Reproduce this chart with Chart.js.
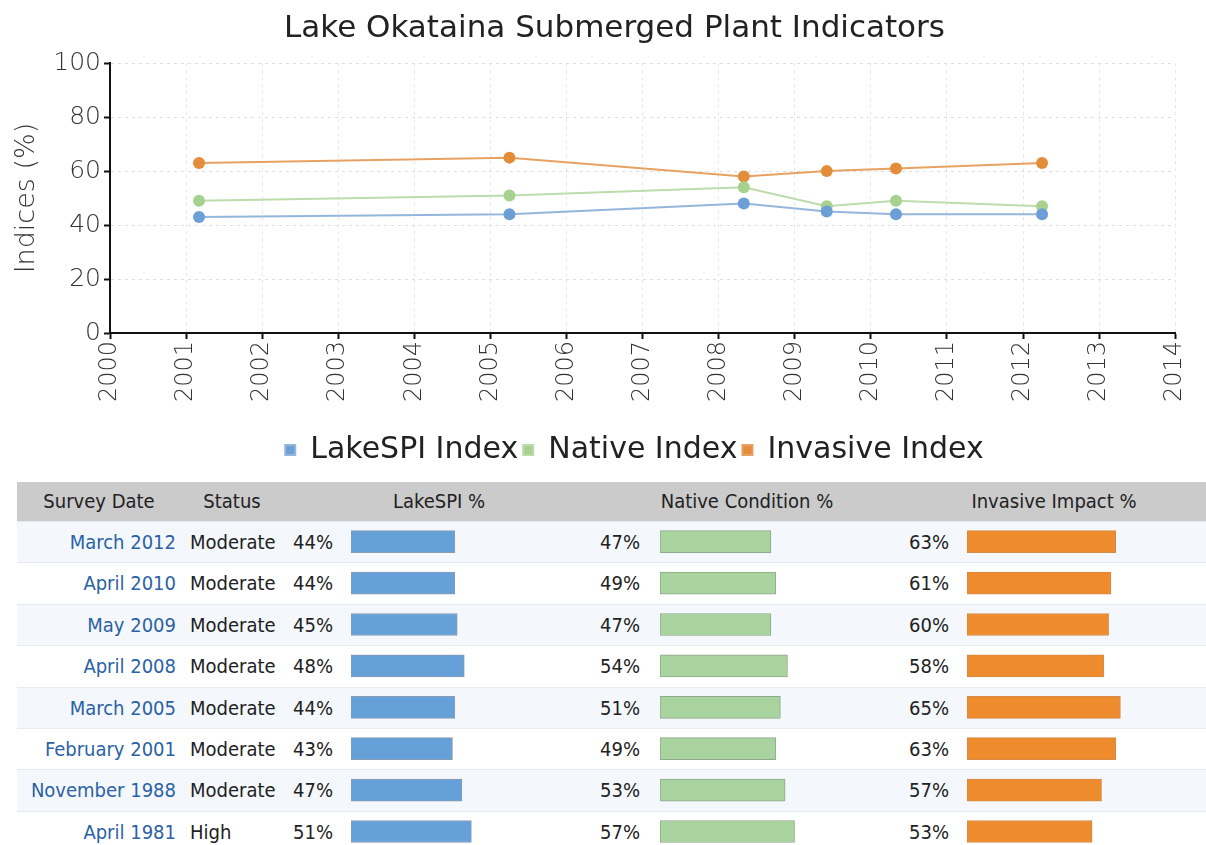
<!DOCTYPE html>
<html>
<head>
<meta charset="utf-8">
<script src="https://cdn.jsdelivr.net/npm/chart.js@4.4.1/dist/chart.umd.min.js"></script>
<style>
  body { margin: 0; background: #fff; width: 1206px; height: 845px; overflow: hidden; position: relative; font-family: "DejaVu Sans", sans-serif; }
  #lineBox { position: absolute; left: 0; top: 0; width: 1206px; height: 475px; }
  .tbl { font-family: "DejaVu Sans Condensed", "DejaVu Sans", sans-serif; font-stretch: condensed; font-size: 20px; color: #222; }
  .head { position: absolute; left: 17px; top: 482px; width: 1189px; height: 39px; line-height: 39px; background: #cbcbcb; }
  .head span { position: absolute; width: 300px; text-align: center; top: 0; }
  .row { position: absolute; left: 17px; width: 1189px; height: 41.4px; line-height: 41px; border-top: 1px solid #e6e9ef; box-sizing: border-box; }
  .row span { position: absolute; top: 0; white-space: nowrap; }
  .row .date { left: 0; width: 159px; text-align: right; color: #2b62a6; }
  .barBox { position: absolute; top: 521px; width: 236px; height: 331.2px; }
</style>
</head>
<body>
<div id="lineBox"><canvas id="lineChart"></canvas></div>
<div id="table" class="tbl"></div>
<div class="barBox" style="left:351px"><canvas id="spiBars"></canvas></div>
<div class="barBox" style="left:660px"><canvas id="nativeBars"></canvas></div>
<div class="barBox" style="left:967px"><canvas id="invasiveBars"></canvas></div>
<script>
// survey data, newest first (as in the table)
const surveyDates = ["March 2012", "April 2010", "May 2009", "April 2008", "March 2005", "February 2001", "November 1988", "April 1981"];
const surveyYears = [2012.25, 2010.33, 2009.42, 2008.33, 2005.25, 2001.17, 1988.92, 1981.33];
const surveyStatus = ["Moderate", "Moderate", "Moderate", "Moderate", "Moderate", "Moderate", "Moderate", "High"];
const lakeSpi = [44, 44, 45, 48, 44, 43, 47, 51];
const nativeCond = [47, 49, 47, 54, 51, 49, 53, 57];
const invasiveImpact = [63, 61, 60, 58, 65, 63, 57, 53];

const yearMin = 2000;
const yearMax = 2014;
const yTicks = [0, 20, 40, 60, 80, 100];
const headers = ["Survey Date", "Status", "LakeSPI %", "Native Condition %", "Invasive Impact %"];
const headerCenters = [99, 232, 439, 747, 1054];

const chartFont = "'DejaVu Sans', sans-serif";

// points on the chart (only surveys inside the x range), oldest first
const toPoints = (vals) => surveyYears
  .map((yr, i) => ({ x: yr, y: vals[i] }))
  .filter(p => p.x >= yearMin)
  .sort((a, b) => a.x - b.x);

const lineSet = (label, vals, line, dot) => ({
  label,
  data: toPoints(vals),
  borderColor: line,
  backgroundColor: dot,
  pointBackgroundColor: dot,
  pointBorderColor: dot,
  pointRadius: 6,
  pointBorderWidth: 0,
  borderWidth: 2,
  tension: 0
});

// the original title and legend sit a little right of centre
const nudgeBoxes = {
  id: "nudgeBoxes",
  afterLayout(chart) {
    chart.legend.left += 40;
    chart.legend.right += 40;
    chart.titleBlock.left += 20;
    chart.titleBlock.right += 20;
  }
};

new Chart(document.getElementById("lineChart"), {
  type: "line",
  data: {
    datasets: [
      lineSet("LakeSPI Index", lakeSpi, "#94b6dc", "#6c9fd6"),
      lineSet("Native Index", nativeCond, "#bddcab", "#a7d18f"),
      lineSet("Invasive Index", invasiveImpact, "#e7a263", "#e38c3a")
    ]
  },
  plugins: [nudgeBoxes],
  options: {
    responsive: true,
    maintainAspectRatio: false,
    animation: false,
    layout: { padding: { left: 0, right: 17, top: 0, bottom: 0 } },
    plugins: {
      title: {
        display: true,
        text: "Lake Okataina Submerged Plant Indicators",
        color: "#222",
        font: { family: chartFont, size: 31, weight: "normal" },
        padding: { top: 10, bottom: 16 }
      },
      legend: {
        position: "bottom",
        labels: {
          boxWidth: 10,
          boxHeight: 10,
          padding: 5,
          color: "#222",
          font: { family: chartFont, size: 30 }
        }
      },
      tooltip: { enabled: false }
    },
    scales: {
      x: {
        type: "linear",
        min: yearMin,
        max: yearMax,
        ticks: {
          stepSize: 1,
          autoSkip: false,
          maxRotation: 90,
          minRotation: 90,
          padding: 2,
          color: "#333",
          font: { family: chartFont, size: 24, weight: "200" },
          callback: v => String(v)
        },
        grid: { color: "#e6e6e6", tickColor: "#111", tickWidth: 2, tickLength: 6 },
        border: { color: "#111", width: 2, dash: [3, 4] },
        afterFit: s => { s.height = 97; }
      },
      y: {
        min: 0,
        max: 100,
        afterBuildTicks: s => { s.ticks = yTicks.map(v => ({ value: v })); },
        ticks: {
          padding: 3,
          color: "#333",
          font: { family: chartFont, size: 25, weight: "200" }
        },
        grid: { color: "#dedede", tickColor: "#111", tickWidth: 2, tickLength: 6 },
        border: { color: "#111", width: 2, dash: [3, 4] },
        title: {
          display: true,
          text: "Indices (%)",
          color: "#333",
          font: { family: chartFont, size: 27, weight: "200" },
          padding: { top: 11, bottom: 0 }
        },
        afterFit: s => { s.width = 110; }
      }
    }
  }
});

// table text
const table = document.getElementById("table");
let head = '<div class="head">';
headers.forEach((h, i) => {
  head += `<span style="left:${headerCenters[i] - 17 - 150}px">${h}</span>`;
});
head += "</div>";
let rows = "";
surveyDates.forEach((d, i) => {
  const top = 521 + i * 41.4;
  const bg = i % 2 === 0 ? "#f4f7fb" : "#ffffff";
  rows += `<div class="row" style="top:${top}px;background:${bg}">
    <span class="date">${d}</span>
    <span style="left:173px">${surveyStatus[i]}</span>
    <span style="left:276px">${lakeSpi[i]}%</span>
    <span style="left:583px">${nativeCond[i]}%</span>
    <span style="left:892px">${invasiveImpact[i]}%</span>
  </div>`;
});
table.innerHTML = head + rows;

// small horizontal bars in the table
const barChart = (id, vals, fill, edge) => new Chart(document.getElementById(id), {
  type: "bar",
  data: {
    labels: surveyDates,
    datasets: [{
      data: vals,
      backgroundColor: fill,
      borderColor: edge,
      borderWidth: 1,
      borderSkipped: false,
      barThickness: 22
    }]
  },
  options: {
    indexAxis: "y",
    responsive: true,
    maintainAspectRatio: false,
    animation: false,
    layout: { padding: 0 },
    plugins: { legend: { display: false }, tooltip: { enabled: false } },
    scales: {
      x: { display: false, min: 0, max: 100 },
      y: { display: false }
    }
  }
});

barChart("spiBars", lakeSpi, "#65a0d8", "#8a9db3");
barChart("nativeBars", nativeCond, "#a9d4a0", "#8fa98a");
barChart("invasiveBars", invasiveImpact, "#ee8b2c", "#d38a4a");
</script>
</body>
</html>
